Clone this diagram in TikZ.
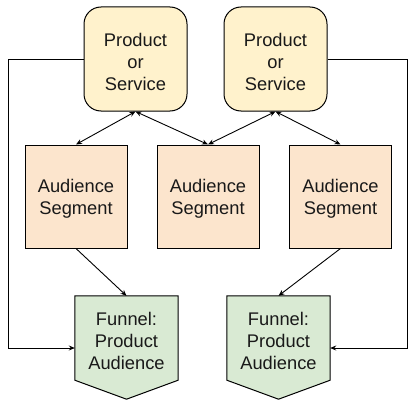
\documentclass[tikz,border=0pt]{standalone}
\usepackage{fontspec}
\setmainfont{Liberation Sans}
\usetikzlibrary{calc,arrows.meta}
\definecolor{prodfill}{HTML}{FFF2CC}
\definecolor{segfill}{HTML}{FCE5CD}
\definecolor{funfill}{HTML}{D9EAD3}
\begin{document}
\begin{tikzpicture}[x=1pt,y=-1pt,
  lbl/.style={font=\fontsize{18.3}{22}\selectfont, align=center, text=black!90, inner sep=0pt, yshift=-2.5pt},
  prodbox/.style={draw=black, line width=1pt, fill=prodfill, rounded corners=17pt, minimum width=103pt, minimum height=104pt, inner sep=0pt},
  segbox/.style={draw=black, line width=1pt, fill=segfill, minimum width=102pt, minimum height=103pt, inner sep=0pt},
  funbox/.style={minimum width=103pt, minimum height=84pt, inner sep=0pt},
  funshape/.style={draw=black, line width=1pt, fill=funfill},
  arr/.style={-{Stealth[length=6pt,width=5pt]}, line width=0.9pt},
  darr/.style={{Stealth[length=6pt,width=5pt]}-{Stealth[length=6pt,width=5pt]}, line width=0.9pt}]
\useasboundingbox (0,0) rectangle (420,420);
\node[prodbox] (p1) at (135.5,59) {};
\node[prodbox] (p2) at (275.5,59) {};
\node[segbox] (s1) at (76,196.5) {};
\node[segbox] (s2) at (208,196.5) {};
\node[segbox] (s3) at (340.5,196.5) {};
\node[funbox] (f1) at (126.5,338) {};
\node[funbox] (f2) at (278.5,338) {};
\draw[funshape] (f1.north west) -- (f1.north east) -- (f1.south east) -- ($(f1.south)+(0,19)$) -- (f1.south west) -- cycle;
\draw[funshape] (f2.north west) -- (f2.north east) -- (f2.south east) -- ($(f2.south)+(0,19)$) -- (f2.south west) -- cycle;
\node[lbl] (p1t) at (p1.center) {Product\\or\\Service};
\node[lbl] (p2t) at (p2.center) {Product\\or\\Service};
\node[lbl] (s1t) at (s1.center) {Audience\\Segment};
\node[lbl] (s2t) at (s2.center) {Audience\\Segment};
\node[lbl] (s3t) at (s3.center) {Audience\\Segment};
\node[lbl] (f1t) at (f1.center) {Funnel:\\Product\\Audience};
\node[lbl] (f2t) at (f2.center) {Funnel:\\Product\\Audience};
\draw[darr] (s1.north) -- (p1.south);
\draw[darr] (s2.north) -- (p1.south);
\draw[darr] (s2.north) -- (p2.south);
\draw[darr] (s3.north) -- (p2.south);
\draw[arr] (s1.south) -- (f1.north);
\draw[arr] (s3.south) -- (f2.north);
\draw[arr] (p1.west) -- (8,59) |- ($(f1.west)+(0,10)$);
\draw[arr] (p2.east) -- (407,59) |- ($(f2.east)+(0,10)$);
\end{tikzpicture}
\end{document}
